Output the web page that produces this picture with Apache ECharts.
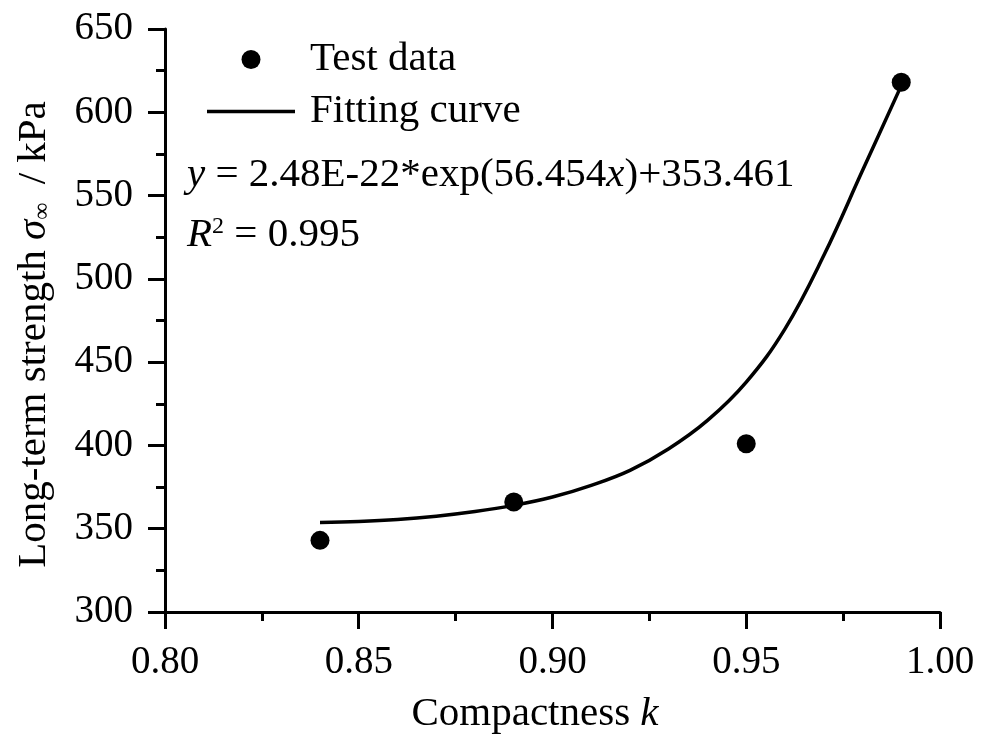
<!DOCTYPE html>
<html>
<head>
<meta charset="utf-8">
<script src="https://cdn.jsdelivr.net/npm/echarts@6/dist/echarts.min.js"></script>
<style>
  html, body { margin: 0; padding: 0; background: #fff; }
  #main { width: 992px; height: 736px; }
</style>
</head>
<body>
<div id="main"></div>
<script>
    // test points
    var testK = [0.84, 0.89, 0.95, 0.99];
    var testStrength = [343, 366, 401, 618];
    // fitted curve
    var fitK = [0.84, 0.85, 0.86, 0.87, 0.88, 0.89, 0.90, 0.91, 0.92, 0.93, 0.94, 0.95, 0.96, 0.97, 0.98, 0.99];
    var fitStrength = [353.7, 354.3, 355.5, 357.5, 360.3, 364, 369, 376, 385, 398, 415, 438, 470, 514, 565, 616];

    var serif = '"Liberation Serif", "DejaVu Serif", serif';

    function pairs(xs, ys) {
        var out = [];
        for (var i = 0; i < xs.length; i++) {
            out.push([xs[i], ys[i]]);
        }
        return out;
    }

    var option = {
        backgroundColor: '#fff',
        animation: false,
        grid: { left: 165, right: 52, top: 29, bottom: 124, outerBoundsMode: 'none', containLabel: false },
        legend: {
            orient: 'vertical',
            left: 202,
            top: 34,
            itemWidth: 88,
            itemHeight: 19,
            itemGap: 11,
            textStyle: { fontFamily: serif, fontSize: 41, color: '#000', lineHeight: 41, padding: [0, 0, 0, 10] },
            data: [
                { name: 'Test data', icon: 'circle' },
                { name: 'Fitting curve', icon: 'path://M0,0 L88,0 L88,3.5 L0,3.5 Z' }
            ]
        },
        xAxis: {
            type: 'value',
            min: 0.8,
            max: 1.0,
            interval: 0.05,
            name: 'Compactness {i|k}',
            nameLocation: 'middle',
            nameGap: 82,
            nameTextStyle: {
                fontFamily: serif, fontSize: 41, color: '#000', padding: [0, 35, 0, 0],
                rich: { i: { fontFamily: serif, fontSize: 41, fontStyle: 'italic', color: '#000' } }
            },
            axisLine: { lineStyle: { color: '#000', width: 3 } },
            axisTick: { inside: false, length: 17, lineStyle: { color: '#000', width: 3 } },
            minorTick: { show: true, splitNumber: 2, length: 9, lineStyle: { color: '#000', width: 3 } },
            splitLine: { show: false },
            axisLabel: {
                margin: 31,
                fontFamily: serif, fontSize: 39, color: '#000',
                formatter: function (v) { return v.toFixed(2); }
            }
        },
        yAxis: {
            type: 'value',
            min: 300,
            max: 650,
            interval: 50,
            name: 'Long-term strength {i|σ}{sub|∞} / kPa',
            nameLocation: 'middle',
            nameGap: 110,
            nameTextStyle: {
                fontFamily: serif, fontSize: 41, color: '#000', padding: [0, 28, 0, 0],
                rich: {
                    i: { fontFamily: serif, fontSize: 41, fontStyle: 'italic', color: '#000' },
                    sub: { fontFamily: serif, fontSize: 24, color: '#000', verticalAlign: 'bottom', padding: [0, 8, 0, 0] }
                }
            },
            axisLine: { show: true, lineStyle: { color: '#000', width: 3 } },
            axisTick: { show: true, inside: false, length: 17, lineStyle: { color: '#000', width: 3 } },
            minorTick: { show: true, splitNumber: 2, length: 9, lineStyle: { color: '#000', width: 3 } },
            splitLine: { show: false },
            axisLabel: { margin: 32, fontFamily: serif, fontSize: 39, color: '#000' }
        },
        graphic: [
            {
                type: 'text',
                left: 187,
                top: 155,
                style: {
                    text: '{i|y} = 2.48E-22*exp(56.454{i|x})+353.461',
                    fontFamily: serif, fontSize: 41, fill: '#000',
                    rich: { i: { fontFamily: serif, fontSize: 41, fontStyle: 'italic', fill: '#000' } }
                }
            },
            {
                type: 'text',
                left: 187,
                top: 215,
                style: {
                    text: '{i|R}{sup|2} = 0.995',
                    fontFamily: serif, fontSize: 41, fill: '#000',
                    rich: {
                        i: { fontFamily: serif, fontSize: 41, fontStyle: 'italic', fill: '#000' },
                        sup: { fontFamily: serif, fontSize: 24, fill: '#000', verticalAlign: 'top', padding: [0, 0, 8, 0] }
                    }
                }
            }
        ],
        series: [
            {
                name: 'Fitting curve',
                type: 'line',
                data: pairs(fitK, fitStrength),
                smooth: 0.4,
                showSymbol: false,
                lineStyle: { color: '#000', width: 3.5 },
                itemStyle: { color: '#000' },
                z: 2
            },
            {
                name: 'Test data',
                type: 'scatter',
                data: pairs(testK, testStrength),
                symbol: 'circle',
                symbolSize: 19,
                itemStyle: { color: '#000', opacity: 1 },
                z: 3
            }
        ]
    };

    var myChart = echarts.init(document.getElementById('main'));
    myChart.setOption(option);
</script>
</body>
</html>
